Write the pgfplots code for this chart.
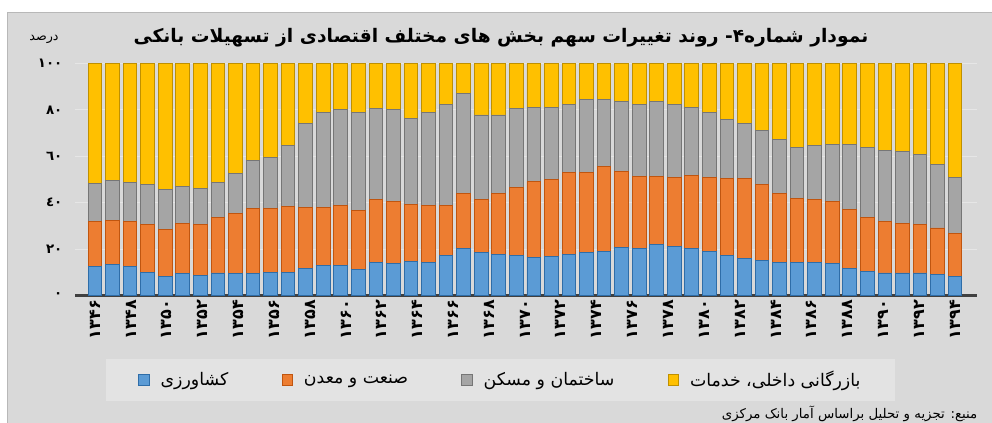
\documentclass[border=0pt]{standalone}
\usepackage{fontspec}
\usepackage{pgfplots}
\usepackage{pgfplotstable}
\pgfplotsset{compat=1.18}
\TeXXeTstate=1
\newfontfamily\fa[Script=Arabic]{DejaVu Sans}

\definecolor{bg}{HTML}{D9D9D9}
\definecolor{legbg}{HTML}{E3E3E3}
\definecolor{agr}{HTML}{5B9BD5}
\definecolor{agrd}{HTML}{2E6DA8}
\definecolor{ind}{HTML}{ED7D31}
\definecolor{indd}{HTML}{C0550F}
\definecolor{con}{HTML}{A5A5A5}
\definecolor{cond}{HTML}{767676}
\definecolor{srv}{HTML}{FFC000}
\definecolor{srvd}{HTML}{BF9000}

% sector shares of bank credit (%), one row per year 1346..1395
\pgfplotstableread{
x  agr  ind  con  srv
0  12.6 19.3 16.5 51.6
1  13.5 19.0 16.9 50.6
2  12.3 19.4 17.0 51.3
3  10.1 20.3 17.3 52.3
4   8.0 20.6 17.1 54.3
5   9.4 21.8 15.8 53.0
6   8.6 22.0 15.6 53.8
7   9.7 23.9 15.1 51.3
8   9.4 26.1 17.1 47.4
9   9.4 28.1 20.8 41.7
10 10.0 27.7 21.7 40.6
11 10.1 28.2 26.5 35.2
12 11.8 26.0 36.2 26.0
13 12.9 24.9 41.2 21.0
14 13.0 25.8 41.2 20.0
15 11.4 25.4 42.2 21.0
16 14.1 27.2 39.4 19.3
17 13.6 27.0 39.5 19.9
18 14.5 24.6 37.3 23.6
19 14.3 24.4 40.1 21.2
20 17.4 21.4 43.4 17.8
21 20.1 23.7 43.2 13.0
22 18.4 23.0 36.4 22.2
23 17.5 26.4 33.9 22.2
24 17.2 29.3 33.9 19.6
25 16.5 32.6 32.1 18.8
26 17.0 33.0 31.2 18.8
27 17.5 35.4 29.6 17.5
28 18.7 34.5 31.1 15.7
29 19.1 36.3 28.9 15.7
30 20.6 32.9 30.1 16.4
31 20.1 31.3 31.1 17.5
32 22.0 29.4 32.2 16.4
33 21.3 29.7 31.2 17.8
34 20.1 31.6 29.5 18.8
35 19.1 31.6 28.1 21.2
36 17.2 33.1 25.6 24.1
37 16.0 34.3 23.9 25.8
38 15.2 32.5 23.6 28.7
39 14.3 29.5 23.6 32.6
40 14.3 27.6 21.7 36.4
41 14.1 27.2 23.2 35.5
42 13.6 27.0 24.5 34.9
43 11.6 25.4 28.1 34.9
44 10.4 23.4 30.0 36.2
45  9.7 22.2 30.7 37.4
46  9.7 21.5 30.7 38.1
47  9.7 20.7 30.5 39.1
48  9.0 20.1 27.4 43.5
49  8.3 18.5 23.9 49.3
}\shares

\begin{document}
\begin{tikzpicture}
% 1 px of the reference = 0.75pt
\useasboundingbox (0pt,0pt) rectangle (744pt,317.25pt);
\begin{scope}[x=0.75pt,y=0.75pt]
\fill[white] (0,0) rectangle (992,423);
\fill[bg] (7,-10) rectangle (1000,411);
\draw[black!28] (7,-10) -- (7,411) -- (1000,411);
\end{scope}

\begin{axis}[
  at={(56.25pt,95.625pt)}, anchor=south west,
  scale only axis, width=676.5pt, height=174pt,
  ybar stacked, bar width=0.78,
  xmin=-1.14, xmax=50.25, ymin=0, ymax=100,
  axis x line*=bottom, axis y line*=left,
  x axis line style={-, draw=black!75, line width=2.2pt},
  y axis line style={draw=none},
  xtick style={draw=none}, ytick style={draw=none},
  xtick={0,2.0417,4.0833,6.125,8.1667,10.2083,12.25,14.2917,16.3333,18.375,20.4167,22.4583,24.5,26.5417,28.5833,30.625,32.6667,34.7083,36.75,38.7917,40.8333,42.875,44.9167,46.9583,49},
  xticklabels={۱۳۴۶,۱۳۴۸,۱۳۵۰,۱۳۵۲,۱۳۵۴,۱۳۵۶,۱۳۵۸,۱۳۶۰,۱۳۶۲,۱۳۶۴,۱۳۶۶,۱۳۶۸,۱۳۷۰,۱۳۷۲,۱۳۷۴,۱۳۷۶,۱۳۷۸,۱۳۸۰,۱۳۸۲,۱۳۸۴,۱۳۸۶,۱۳۸۸,۱۳۹۰,۱۳۹۲,۱۳۹۴},
  xticklabel style={rotate=90, anchor=east, font=\fa\bfseries\fontsize{12}{12}\selectfont},
  ytick={0,20,40,60,80,100},
  yticklabels={٠,٢٠,٤٠,٦٠,٨٠,١٠٠},
  yticklabel style={font=\fa\bfseries\fontsize{10}{10}\selectfont, xshift=-6pt},
  ymajorgrids, grid style={draw=white!35!bg, line width=0.6pt},
  legend columns=4,
  legend style={at={(0.472,-0.364)}, anchor=center, fill=legbg, draw=none,
    font=\fa\fontsize{13}{15}\selectfont,
    inner xsep=24pt, inner ysep=7pt,
    /tikz/every odd column/.append style={column sep=6pt},
    /tikz/every even column/.append style={column sep=38pt}},
  legend image code/.code={\draw[#1,/tikz/.cd,line width=0.7pt] (0pt,-4pt) rectangle (8pt,4pt);},
]
\addplot[fill=agr, draw=agrd, line width=0.7pt] table[x=x, y=agr] {\shares};
\addlegendentry{\beginR کشاورزی\endR}
\addplot[fill=ind, draw=indd, line width=0.7pt] table[x=x, y=ind] {\shares};
\addlegendentry{\beginR صنعت و معدن\endR}
\addplot[fill=con, draw=cond, line width=0.7pt] table[x=x, y=con] {\shares};
\addlegendentry{\beginR ساختمان و مسکن\endR}
\addplot[fill=srv, draw=srvd, line width=0.7pt] table[x=x, y=srv] {\shares};
\addlegendentry{\beginR بازرگانی داخلی، خدمات\endR}
\end{axis}

\begin{scope}[x=0.75pt,y=0.75pt]
\node[font=\fa\bfseries\fontsize{14}{16}\selectfont] at (501,385) {\beginR نمودار شماره۴- روند تغییرات سهم بخش های مختلف اقتصادی از تسهیلات بانکی\endR};
\node[font=\fa\fontsize{9.5}{11}\selectfont] at (44,384) {\beginR درصد\endR};
\node[font=\fa\fontsize{10}{12}\selectfont, anchor=east] at (982,9) {\beginR منبع: تجزیه و تحلیل براساس آمار بانک مرکزی\endR};
\end{scope}
\end{tikzpicture}
\end{document}
